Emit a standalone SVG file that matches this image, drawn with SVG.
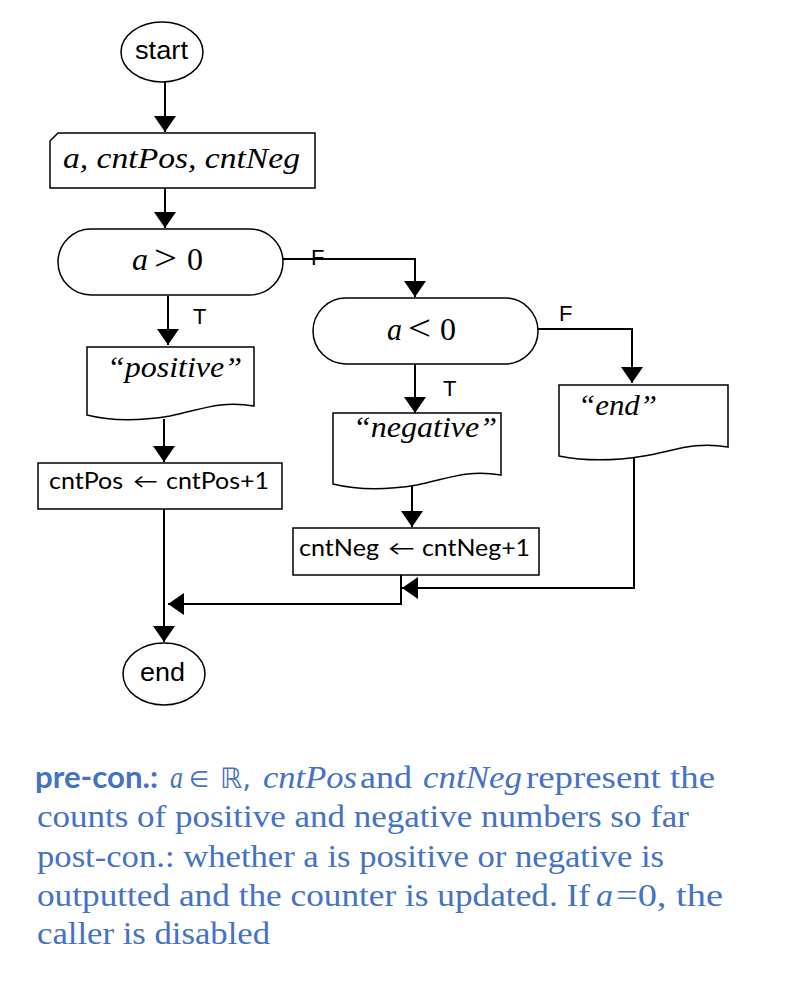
<svg xmlns="http://www.w3.org/2000/svg" width="806" height="982" viewBox="0 0 806 982">
<style>
.shape{fill:#fff;stroke:#000;stroke-width:1.5}
.conn{fill:none;stroke:#000;stroke-width:2}
.sans{font-family:"Liberation Sans",Arial,sans-serif;fill:#000}
.cal{font-family:Lato,"DejaVu Sans",sans-serif;fill:#000}
.ser{font-family:"Liberation Serif","Times New Roman",serif;fill:#000}
.it{font-style:italic}
.blue{font-family:"Liberation Serif","DejaVu Serif",serif;font-size:32px;fill:#4472C4}
</style>
<defs>
<marker id="ah" markerUnits="userSpaceOnUse" markerWidth="16" markerHeight="22" viewBox="0 0 16 22" refX="16" refY="11" orient="auto">
<path d="M0,0 L16,11 L0,22 Z" fill="#000"/>
</marker>
</defs>
<rect width="806" height="982" fill="#fff"/>

<g id="connectors">
<line class="conn" x1="165" y1="82" x2="165" y2="132" marker-end="url(#ah)"/>
<line class="conn" x1="165" y1="188" x2="165" y2="228" marker-end="url(#ah)"/>
<polyline class="conn" points="283,259 415,259 415,297" marker-end="url(#ah)"/>
<line class="conn" x1="168" y1="296" x2="168" y2="345" marker-end="url(#ah)"/>
<line class="conn" x1="164" y1="419" x2="164" y2="462" marker-end="url(#ah)"/>
<polyline class="conn" points="538,329 632,329 632,383" marker-end="url(#ah)"/>
<line class="conn" x1="415" y1="364" x2="415" y2="413" marker-end="url(#ah)"/>
<line class="conn" x1="412" y1="482" x2="412" y2="527" marker-end="url(#ah)"/>
<line class="conn" x1="164" y1="509" x2="164" y2="642" marker-end="url(#ah)"/>
<polyline class="conn" points="401,575 401,604 168,604" marker-end="url(#ah)"/>
<polyline class="conn" points="634,452 634,588 402,588" marker-end="url(#ah)"/>
<text class="sans" x="311" y="265" font-size="22">F</text>
<text class="sans" x="193" y="324" font-size="22">T</text>
<text class="sans" x="559" y="321" font-size="22">F</text>
<text class="sans" x="443" y="396" font-size="22">T</text>
</g>

<g id="start">
<ellipse class="shape" cx="162" cy="52" rx="41" ry="30"/>
<text class="sans" x="135" y="59" font-size="26" textLength="53" lengthAdjust="spacingAndGlyphs">start</text>
</g>

<g id="input">
<polygon class="shape" points="58,133 315,133 315,188 50,188 50,141"/>
<text class="ser it" x="63" y="168" font-size="29" textLength="237" lengthAdjust="spacingAndGlyphs">a, cntPos, cntNeg</text>
</g>

<g id="dec1">
<rect class="shape" x="58" y="229" width="225" height="66" rx="33" ry="33"/>
<text class="ser it" x="132" y="270" font-size="31" textLength="16" lengthAdjust="spacingAndGlyphs">a</text>
<text class="ser" x="154" y="270" font-size="36" textLength="23" lengthAdjust="spacingAndGlyphs">&gt;</text>
<text class="ser" x="187" y="270" font-size="31" textLength="16" lengthAdjust="spacingAndGlyphs">0</text>
</g>

<g id="positive">
<path class="shape" d="M87,347 H254 V406 C220,400 200,410 170,416 C140,421 110,421 87,415 Z"/>
<text class="ser it" x="107" y="377" font-size="29" textLength="135" lengthAdjust="spacingAndGlyphs">“positive”</text>
</g>

<g id="incPos">
<rect class="shape" x="38" y="463" width="244" height="46"/>
<text class="cal" x="49" y="489" font-size="23" textLength="74" lengthAdjust="spacingAndGlyphs">cntPos</text>
<text class="cal" x="133" y="488" font-size="20" textLength="25" lengthAdjust="spacingAndGlyphs">←</text>
<text class="cal" x="166" y="489" font-size="23" textLength="103" lengthAdjust="spacingAndGlyphs">cntPos+1</text>
</g>

<g id="dec2">
<rect class="shape" x="313" y="298" width="225" height="66" rx="33" ry="33"/>
<text class="ser it" x="387" y="340" font-size="31" textLength="15" lengthAdjust="spacingAndGlyphs">a</text>
<text class="ser" x="408" y="340" font-size="36" textLength="23" lengthAdjust="spacingAndGlyphs">&lt;</text>
<text class="ser" x="440" y="340" font-size="31" textLength="16" lengthAdjust="spacingAndGlyphs">0</text>
</g>

<g id="negative">
<path class="shape" d="M333,413 H501 V475 C467,469 447,479 417,485 C387,490 357,490 333,484 Z"/>
<text class="ser it" x="353" y="437" font-size="29" textLength="144" lengthAdjust="spacingAndGlyphs">“negative”</text>
</g>

<g id="endout">
<path class="shape" d="M559,385 H728 V447 C694,441 674,451 644,456 C614,461 584,461 559,456 Z"/>
<text class="ser it" x="578" y="415" font-size="29" textLength="79" lengthAdjust="spacingAndGlyphs">“end”</text>
</g>

<g id="incNeg">
<rect class="shape" x="293" y="528" width="246" height="47"/>
<text class="cal" x="299" y="556" font-size="23" textLength="80" lengthAdjust="spacingAndGlyphs">cntNeg</text>
<text class="cal" x="388" y="555" font-size="20" textLength="27" lengthAdjust="spacingAndGlyphs">←</text>
<text class="cal" x="422" y="556" font-size="23" textLength="108" lengthAdjust="spacingAndGlyphs">cntNeg+1</text>
</g>

<g id="end">
<ellipse class="shape" cx="164" cy="674" rx="41" ry="31"/>
<text class="sans" x="140" y="681" font-size="26" textLength="45" lengthAdjust="spacingAndGlyphs">end</text>
</g>

<g id="notes">
<text x="35" y="788" font-family="Lato,'Liberation Sans',sans-serif" font-weight="700" font-size="31" fill="#4472C4" textLength="123" lengthAdjust="spacingAndGlyphs">pre-con.:</text>
<text class="blue" x="170" y="788" font-style="italic" textLength="13" lengthAdjust="spacingAndGlyphs">a</text>
<text x="189" y="787" font-family="'DejaVu Sans',sans-serif" font-size="23" fill="#4472C4">∈</text>
<text x="220" y="788" font-family="'DejaVu Sans',sans-serif" font-size="28" fill="#4472C4">ℝ,</text>
<text class="blue" x="263" y="788" font-style="italic" textLength="94" lengthAdjust="spacingAndGlyphs">cntPos</text>
<text class="blue" x="360" y="788" textLength="52" lengthAdjust="spacingAndGlyphs">and</text>
<text class="blue" x="423" y="788" font-style="italic" textLength="99" lengthAdjust="spacingAndGlyphs">cntNeg</text>
<text class="blue" x="526" y="788" textLength="189" lengthAdjust="spacingAndGlyphs">represent the</text>
<text class="blue" x="37" y="827" textLength="652" lengthAdjust="spacingAndGlyphs">counts of positive and negative numbers so far</text>
<text class="blue" x="37" y="867" textLength="627" lengthAdjust="spacingAndGlyphs">post-con.: whether a is positive or negative is</text>
<text class="blue" x="37" y="906" textLength="553" lengthAdjust="spacingAndGlyphs">outputted and the counter is updated. If</text>
<text class="blue" x="596" y="906" font-style="italic" textLength="17" lengthAdjust="spacingAndGlyphs">a</text>
<text class="blue" x="616" y="906" textLength="107" lengthAdjust="spacingAndGlyphs">=0, the</text>
<text class="blue" x="37" y="944" textLength="233" lengthAdjust="spacingAndGlyphs">caller is disabled</text>
</g>
</svg>
